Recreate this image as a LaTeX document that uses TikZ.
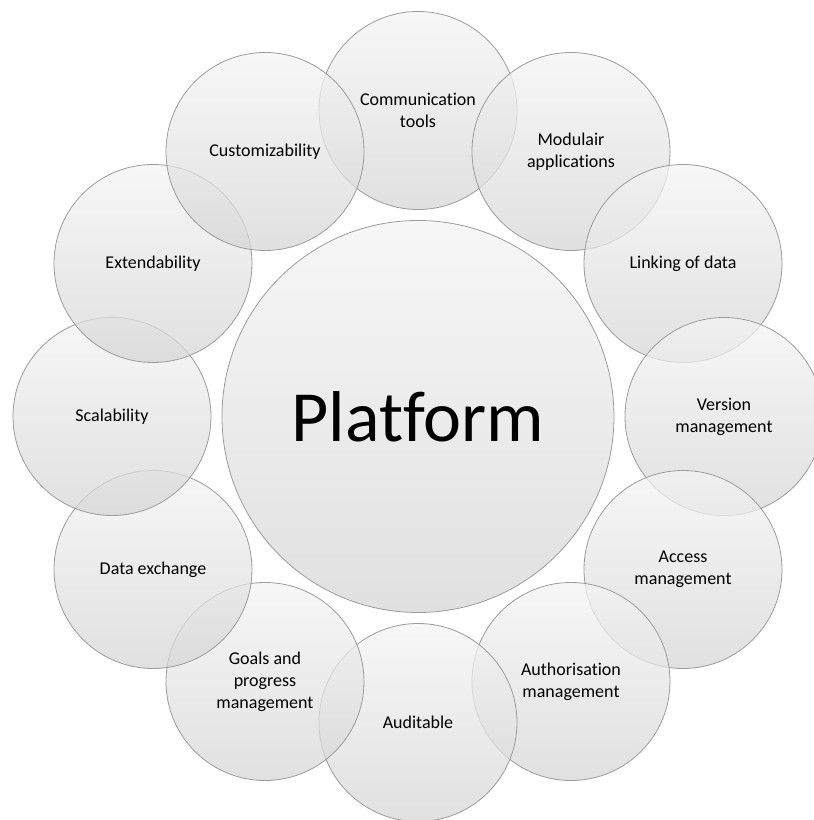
\documentclass[tikz,border=0pt]{standalone}
\usepackage{fontspec}
\setmainfont{Carlito}[Ligatures=NoCommon]
\usepackage{xcolor}
\usepackage{tikz}

\definecolor{rimgray}{RGB}{155,155,155}
\definecolor{bubtop}{RGB}{244,244,244}
\definecolor{bubbot}{RGB}{214,214,214}

\begin{document}
\begin{tikzpicture}[x=1pt, y=1pt,
  hub/.style={circle, minimum size=392pt, inner sep=0pt, draw=rimgray, line width=0.8pt, top color=bubtop, bottom color=bubbot, fill opacity=0.75, text opacity=1, font=\fontsize{72}{86}\selectfont},
  petal/.style={circle, minimum size=198pt, inner sep=0pt, align=center, draw=rimgray, line width=0.8pt, top color=bubtop, bottom color=bubbot, fill opacity=0.75, text opacity=1, font=\fontsize{18}{22}\selectfont}]
\useasboundingbox (-418,-403.5) rectangle (396,416.5);

\node (platform) [hub] at (0,0) {Platform};

\node (comm) [petal] at (90:306) {Communication\\ tools};
\node (modulair) [petal] at (60:306) {Modulair\\ applications};
\node (linking) [petal] at (30:306) {Linking of data};
\node (version) [petal] at (0:306) {Version\\ management};
\node (access) [petal] at (-30:306) {Access\\ management};
\node (authorisation) [petal] at (-60:306) {Authorisation\\ management};
\node (auditable) [petal] at (-90:306) {Auditable};
\node (goals) [petal] at (-120:306) {Goals and\\ progress\\ management};
\node (exchange) [petal] at (-150:306) {Data exchange};
\node (scalability) [petal] at (180:306) {Scalability};
\node (extendability) [petal] at (150:306) {Extendability};
\node (custom) [petal] at (120:306) {Customizability};

\end{tikzpicture}
\end{document}
